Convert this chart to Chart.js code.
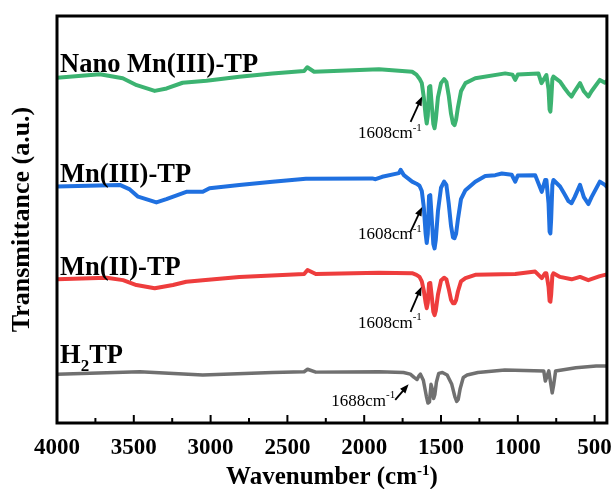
<!DOCTYPE html>
<html>
<head>
<meta charset="utf-8">
<script src="https://cdn.jsdelivr.net/npm/chart.js@4.4.0/dist/chart.umd.min.js"></script>
<style>
  body { margin: 0; background: #fff; }
</style>
</head>
<body>
<canvas id="ftirChart" width="615" height="489"></canvas>
<script>
// FTIR spectra, wavenumber (cm-1) vs offset transmittance (a.u.)
const nanoWn = [4000, 3721, 3572, 3481, 3364, 3286, 3182, 3027, 2813, 2598, 2391, 2371, 2326, 1904,
  1688, 1660, 1640, 1625, 1612, 1600, 1593, 1586, 1578, 1570, 1560, 1550, 1542, 1534, 1520, 1500, 1480, 1465, 1450, 1435, 1422, 1412, 1402, 1390, 1370, 1341,
  1277, 1082, 1035, 1017, 1000, 866, 846, 814, 800, 793, 788, 783, 775, 768, 725, 700, 670, 650, 630, 595, 570, 541, 520, 466, 433, 420];
const nanoT = [84.8, 85.7, 84.7, 83.0, 81.6, 82.2, 83.6, 84.1, 85.1, 85.9, 86.5, 87.4, 86.3, 86.9,
  86.3, 85.6, 84.6, 83.5, 80, 75.5, 73.6, 75.5, 82.5, 82.8, 78, 73.5, 72.4, 74.5, 80, 83.5, 84.5, 83.8, 80.5, 76, 73.6, 73.2, 74.5, 77.5, 81.5, 83.5,
  84.7, 85.9, 85.6, 84.3, 85.6, 85.9, 83.5, 85.5, 82, 77, 76.5, 79, 84.5, 85.1, 83.9, 82.5, 81, 80.2, 81.5, 83.5, 81.5, 80.2, 81.5, 84.3, 83.6, 84.0];

const mn3Wn = [4000, 3591, 3526, 3472, 3353, 3288, 3158, 3051, 3007, 2813, 2597, 2380, 1948, 1926, 1883, 1774, 1763, 1742,
  1688, 1660, 1640, 1625, 1612, 1600, 1593, 1586, 1578, 1570, 1560, 1550, 1542, 1534, 1520, 1500, 1480, 1465, 1450, 1435, 1422, 1412, 1402, 1390, 1370, 1341,
  1277, 1212, 1147, 1104, 1040, 1017, 1000, 887, 844, 822, 814, 800, 793, 788, 783, 775, 768, 725, 700, 670, 650, 630, 595, 570, 541, 520, 466, 433, 420];
const mn3T = [58.1, 58.5, 57.4, 55.6, 54.2, 55.0, 56.8, 56.8, 57.7, 58.5, 59.3, 60.0, 60.1, 59.9, 60.5, 61.4, 62.2, 60.9,
  59.3, 58.8, 58.3, 57.0, 53, 46.5, 44.2, 46.5, 55.8, 56, 50, 44, 42.9, 45, 52, 57.8, 59.3, 58.5, 54, 48.5, 45.6, 45.4, 46.5, 50, 55, 57.2,
  59.3, 60.7, 60.9, 61.3, 61.0, 59.3, 60.8, 60.9, 56.8, 59.7, 59.7, 54, 47, 46.6, 50, 58.5, 59.7, 58.1, 56.5, 54.5, 54.0, 55.5, 58.5, 55.5, 53.8, 55.5, 59.3, 58.5, 58.0];

const mn2Wn = [4000, 3677, 3570, 3483, 3364, 3245, 3158, 3051, 2813, 2391, 2369, 2315, 1904,
  1688, 1660, 1640, 1625, 1612, 1600, 1593, 1586, 1578, 1570, 1560, 1550, 1542, 1534, 1520, 1500, 1480, 1465, 1450, 1435, 1422, 1412, 1402, 1390, 1370, 1341,
  1277, 1017, 887, 844, 822, 814, 800, 793, 788, 783, 775, 768, 725, 650, 595, 541, 466, 433, 420];
const mn2T = [35.3, 35.7, 35.1, 33.9, 33.1, 33.9, 34.7, 35.1, 35.9, 36.6, 37.6, 36.6, 36.9,
  36.8, 36.4, 35.9, 34.8, 32.5, 29.5, 28.2, 29.5, 34.3, 34.4, 31, 27.3, 26.5, 27.6, 31.5, 35, 35.7, 35.3, 33, 30.3, 29.4, 29.4, 30.2, 32.3, 34.8, 35.6,
  36.4, 36.6, 37.2, 35.6, 36.8, 36.8, 33.5, 30, 29.8, 31.5, 36.2, 36.8, 35.9, 35.3, 35.9, 35.1, 36.1, 36.4, 36.5];

const h2tpWn = [4000, 3461, 3051, 2597, 2391, 2369, 2315, 1904, 1744, 1700, 1675, 1656, 1645, 1634, 1615, 1595, 1585, 1575, 1565, 1558,
  1548, 1540, 1530, 1515, 1491, 1460, 1430, 1410, 1398, 1388, 1375, 1355, 1330, 1260, 1084, 831, 821, 798, 785, 776, 766, 754, 622, 490, 420];
const h2tpT = [12.0, 12.6, 11.8, 12.4, 12.6, 13.2, 12.5, 12.6, 12.4, 12.0, 11.2, 10.7, 11.5, 12.0, 10.5, 6.5, 4.9, 5.2, 9.5, 8.5,
  6.0, 7.0, 10, 12.2, 12.4, 11.8, 9.5, 6.5, 5.3, 5.8, 8.5, 11.2, 11.8, 12.4, 13.0, 12.8, 10.3, 12.8, 9.5, 7.4, 9.5, 12.8, 13.6, 14.0, 14.0];

const xTicks = [4000, 3500, 3000, 2500, 2000, 1500, 1000, 500];

// annotation positions in data units [wavenumber, T]
const peakNotes = [
  { text: '1608cm', sup: '-1', at: [1625, 71.0], tail: [1698, 74.0], tip: [1623, 80.2] },
  { text: '1608cm', sup: '-1', at: [1625, 46.2], tail: [1698, 47.0], tip: [1623, 53.1] },
  { text: '1608cm', sup: '-1', at: [1625, 24.5], tail: [1698, 27.3], tip: [1627, 33.5] },
  { text: '1688cm', sup: '-1', at: [1798, 5.3], tail: [1798, 5.7], tip: [1711, 9.5] }
];
const seriesNames = [
  { pieces: [['Nano Mn(III)-TP', 26.5, 0]], at: [3980, 86.3] },
  { pieces: [['Mn(III)-TP', 26.5, 0]], at: [3980, 59.3] },
  { pieces: [['Mn(II)-TP', 26.5, 0]], at: [3980, 36.4] },
  { pieces: [['H', 26.5, 0], ['2', 17, 8], ['TP', 26.5, 0]], at: [3980, 14.7] }
];

const FONT = '"Liberation Serif", "Times New Roman", serif';

function toPoints(xs, ys) {
  return xs.map((v, i) => ({ x: v, y: ys[i] }));
}

// draw text made of pieces [text, size, dy]
function drawRich(ctx, pieces, x, y, align, weight) {
  let total = 0;
  pieces.forEach(p => {
    ctx.font = weight + ' ' + p[1] + 'px ' + FONT;
    total += ctx.measureText(p[0]).width;
  });
  let cx = align === 'right' ? x - total : align === 'center' ? x - total / 2 : x;
  ctx.textAlign = 'left';
  pieces.forEach(p => {
    ctx.font = weight + ' ' + p[1] + 'px ' + FONT;
    ctx.fillText(p[0], cx, y + p[2]);
    cx += ctx.measureText(p[0]).width;
  });
}

const overlay = {
  id: 'overlay',
  afterDatasetsDraw(chart) {
    const { ctx, chartArea: a, scales: { x, y } } = chart;
    ctx.save();
    ctx.fillStyle = '#000';
    ctx.strokeStyle = '#000';

    // frame
    ctx.lineWidth = 3;
    ctx.strokeRect(a.left, a.top, a.right - a.left, a.bottom - a.top);

    // inward ticks on bottom axis
    ctx.lineWidth = 2;
    for (let v = 500; v <= 4000; v += 250) {
      const px = x.getPixelForValue(v);
      const len = v % 500 === 0 ? 8 : 5;
      ctx.beginPath();
      ctx.moveTo(px, a.bottom);
      ctx.lineTo(px, a.bottom - len);
      ctx.stroke();
    }

    // series names
    ctx.textBaseline = 'alphabetic';
    seriesNames.forEach(s => {
      drawRich(ctx, s.pieces, x.getPixelForValue(s.at[0]), y.getPixelForValue(s.at[1]), 'left', 'bold');
    });

    // peak notes with arrows
    peakNotes.forEach(n => {
      ctx.textBaseline = 'middle';
      drawRich(ctx, [[n.text, 17, 0], [n.sup, 11, -6]],
        x.getPixelForValue(n.at[0]), y.getPixelForValue(n.at[1]), 'right', 'normal');
      const x0 = x.getPixelForValue(n.tail[0]), y0 = y.getPixelForValue(n.tail[1]);
      const x1 = x.getPixelForValue(n.tip[0]), y1 = y.getPixelForValue(n.tip[1]);
      const ang = Math.atan2(y1 - y0, x1 - x0);
      ctx.lineWidth = 1.8;
      ctx.beginPath();
      ctx.moveTo(x0, y0);
      ctx.lineTo(x1 - 6 * Math.cos(ang), y1 - 6 * Math.sin(ang));
      ctx.stroke();
      ctx.beginPath();
      ctx.moveTo(x1, y1);
      ctx.lineTo(x1 - 9 * Math.cos(ang) + 3.5 * Math.sin(ang), y1 - 9 * Math.sin(ang) - 3.5 * Math.cos(ang));
      ctx.lineTo(x1 - 9 * Math.cos(ang) - 3.5 * Math.sin(ang), y1 - 9 * Math.sin(ang) + 3.5 * Math.cos(ang));
      ctx.closePath();
      ctx.fill();
    });

    // x axis title with superscript
    ctx.textBaseline = 'alphabetic';
    drawRich(ctx, [['Wavenumber (cm', 25, 0], ['-1', 15, -9], [')', 25, 0]],
      (a.left + a.right) / 2, chart.height - 5, 'center', 'bold');
    ctx.restore();
  }
};

const lineStyle = {
  borderWidth: 4,
  pointRadius: 0,
  tension: 0,
  borderJoinStyle: 'round',
  borderCapStyle: 'round',
  fill: false
};

const ctx = document.getElementById('ftirChart').getContext('2d');
new Chart(ctx, {
  type: 'line',
  data: {
    datasets: [
      { ...lineStyle, label: 'H2TP', data: toPoints(h2tpWn, h2tpT), borderColor: '#707070', borderWidth: 3.5 },
      { ...lineStyle, label: 'Mn(II)-TP', data: toPoints(mn2Wn, mn2T), borderColor: '#ee3d3d' },
      { ...lineStyle, label: 'Mn(III)-TP', data: toPoints(mn3Wn, mn3T), borderColor: '#1f70e0' },
      { ...lineStyle, label: 'Nano Mn(III)-TP', data: toPoints(nanoWn, nanoT), borderColor: '#3cb371' }
    ]
  },
  options: {
    responsive: false,
    animation: false,
    layout: { padding: { top: 16, right: 6, left: 0, bottom: 0 } },
    plugins: {
      legend: { display: false },
      tooltip: { enabled: false }
    },
    scales: {
      x: {
        type: 'linear',
        min: 420,
        max: 4000,
        reverse: true,
        grid: { display: false },
        border: { display: false },
        afterBuildTicks: s => { s.ticks = xTicks.map(v => ({ value: v })); },
        afterFit: s => { s.height = 66; },
        ticks: {
          color: '#000',
          padding: 3,
          maxRotation: 0,
          autoSkip: false,
          callback: v => String(v),
          font: { family: FONT, size: 23, weight: 'bold' }
        }
      },
      y: {
        min: 0,
        max: 100,
        grid: { display: false },
        border: { display: false },
        ticks: { display: false },
        afterFit: s => { s.width = 57; },
        title: {
          display: true,
          text: 'Transmittance (a.u.)',
          color: '#000',
          padding: { top: 7, bottom: 0 },
          font: { family: FONT, size: 26, weight: 'bold' }
        }
      }
    }
  },
  plugins: [overlay]
});
</script>
</body>
</html>
